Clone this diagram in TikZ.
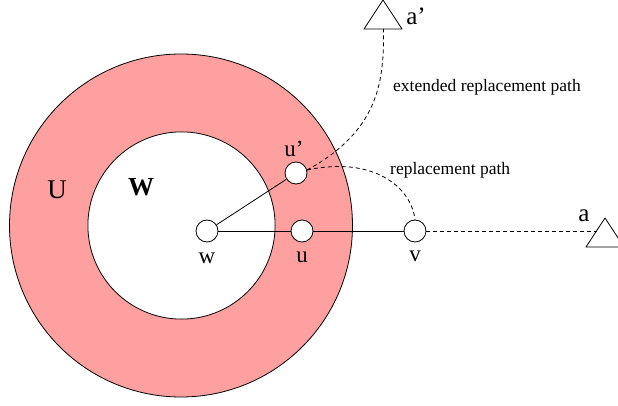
\documentclass[tikz,border=0pt]{standalone}
\usepackage{fontspec}
\setmainfont{Liberation Serif}
\definecolor{ringpink}{RGB}{255,160,160}
\begin{document}
\begin{tikzpicture}[x=1pt,y=-1pt,
  vtx/.style={circle,draw,fill=white,minimum size=22pt,inner sep=0pt,line width=0.8pt},
  edge/.style={line width=0.8pt},
  dpath/.style={line width=0.8pt,dash pattern=on 4pt off 3pt},
  lbl/.style={inner sep=0pt,anchor=base,font=\fontsize{23}{26}\selectfont},
  biglbl/.style={inner sep=0pt,anchor=base,font=\fontsize{27}{30}\selectfont},
  small/.style={inner sep=0pt,anchor=base west,font=\fontsize{17.5}{20}\selectfont},
  tri/.style={line width=0.8pt,line join=miter}]
\useasboundingbox (0,0) rectangle (618,406);
% rings
\fill[ringpink,draw=black,line width=0.8pt] (181,225.5) circle (171.5);
\fill[white,draw=black,line width=0.8pt] (181.5,225.5) circle (93.6);
% region labels
\node[biglbl] (Ulbl) at (57,199) {U};
\node[biglbl,font=\bfseries\fontsize{26}{30}\selectfont] (Wlbl) at (141,196) {W};
% vertices
\node[vtx] (w) at (207,231) {};
\node[vtx] (u) at (302,231) {};
\node[vtx] (up) at (296,173) {};
\node[vtx] (v) at (415,231) {};
% vertex labels
\node[lbl] (wl) at (207,263) {w};
\node[lbl] (ul) at (302,262) {u};
\node[lbl] (vl) at (415,261) {v};
\node[lbl] (upl) at (294,157) {u’};
% triangles
\draw[tri] (605,218) -- (586,247) -- (624,247) -- cycle;
\draw[tri] (383,0) -- (364,29) -- (402,29) -- cycle;
\coordinate (a) at (596.5,231);
\coordinate (ap) at (383.5,29);
\node[lbl,font=\fontsize{25}{28}\selectfont] (al) at (584,222) {a};
\node[lbl,font=\fontsize{25}{28}\selectfont] (apl) at (416,25) {a’};
% solid edges
\draw[edge] (w) -- (up);
\draw[edge] (w) -- (u);
\draw[edge] (u) -- (v);
% dashed paths
\draw[dpath] (v) -- (a);
\draw[dpath] (up.15) .. controls (372,156) and (411,186) .. (v.north);
\draw[dpath] (up.15) .. controls (380,130) and (384,80) .. (ap);
% path labels
\node[small] (ext) at (393,92) {extended replacement path};
\node[small] (rep) at (390,175) {replacement path};
\end{tikzpicture}
\end{document}
